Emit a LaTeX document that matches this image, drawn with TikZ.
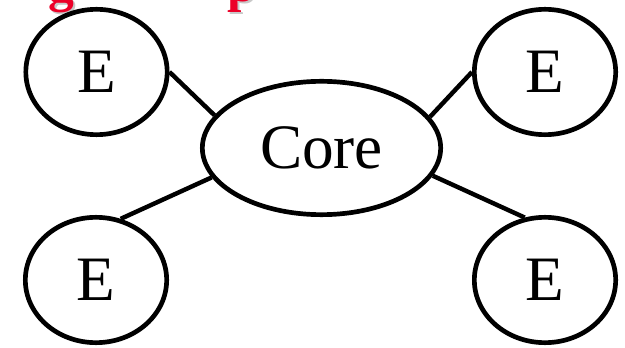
\documentclass[tikz,border=0pt]{standalone}
\usepackage{fontspec}
\setmainfont{Liberation Serif}
\usetikzlibrary{shapes.geometric}
\definecolor{titlered}{RGB}{236,0,40}
\definecolor{titleshade}{RGB}{200,200,200}
\begin{document}
\begin{tikzpicture}[x=0.03cm, y=-0.03cm,
    blob/.style={ellipse, draw, line width=4pt, inner sep=0pt,
      minimum width=4.24cm, minimum height=3.76cm,
      font=\fontsize{54}{58}\selectfont},
    corenode/.style={blob, minimum width=7.15cm, minimum height=4cm},
    link/.style={line width=3.8pt},
    titletext/.style={anchor=base, inner sep=0pt,
      font=\bfseries\fontsize{44}{48}\selectfont}]
  \useasboundingbox (0,0) rectangle (625,348);
  % bottom of the slide title, cut by the frame
  \node[titletext, text=titleshade] (gshade) at (63,3.5) {g};
  \node[titletext, text=titlered] (gtitle) at (61,1.5) {g};
  \node[titletext, text=titleshade] (pshade) at (244,3.5) {p};
  \node[titletext, text=titlered] (ptitle) at (242,1.5) {p};

  \node[corenode] (core) at (321.5,148) {Core};
  \node[blob] (etl) at (96.5,72) {E};
  \node[blob] (etr) at (545,72) {E};
  \node[blob] (ebl) at (96,280) {E};
  \node[blob] (ebr) at (545,280) {E};

  \draw[link] (etl.east) -- (core.163);
  \draw[link] (etr.west) -- (core.16);
  \draw[link] (ebl.68) -- (core.195);
  \draw[link] (ebr.108) -- (core.346);
\end{tikzpicture}
\end{document}
